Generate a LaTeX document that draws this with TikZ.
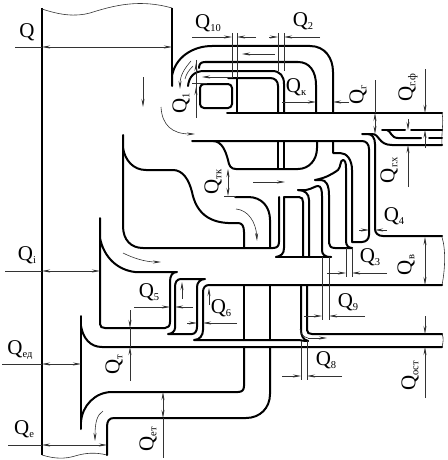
\documentclass[tikz,border=0pt]{standalone}
\usepackage{fontspec}
\setmainfont{Liberation Serif}
\usetikzlibrary{arrows.meta}
\newcommand{\Ql}[1]{{\fontsize{21}{21}\selectfont Q}{\fontsize{10.5}{10.5}\selectfont\raisebox{-3pt}{#1}}}
\tikzset{
  heavy/.style={line width=2pt,line cap=round,line join=round},
  wall/.style={line width=2.1pt,line cap=butt},
  thinl/.style={line width=.6pt,black!80},
  dimarrow/.style={thinl,-{Stealth[length=8pt,width=3pt]}},
  dimboth/.style={thinl,{Stealth[length=8pt,width=3pt]}-{Stealth[length=8pt,width=3pt]}},
  lab/.style={inner sep=0pt,anchor=center},
  vlab/.style={inner sep=0pt,anchor=center,rotate=90}
}
\begin{document}
\begin{tikzpicture}[x=1pt,y=-1pt]
\useasboundingbox (0,0) rectangle (447,460);
% casing and wavy cuts
\draw[wall] (42,8) -- (42,455);
\draw[thinl] (42,9) .. controls (60,15) and (75,17) .. (90,13) .. controls (115,5) and (140,-1) .. (172,8);
\draw[thinl] (42,455) .. controls (55,459) and (65,459) .. (75,456) .. controls (85,453) and (95,452) .. (107,455);
\draw[thinl] (442,113) .. controls (444,122) and (441,135) .. (442,145);
\draw[thinl] (442,237) .. controls (446,250) and (445,270) .. (442,285);
\draw[thinl] (442,334) .. controls (444,338) and (443,343) .. (442,347);
\draw[wall] (172,8) -- (172,86);
% top outer duct
\draw[heavy] (172,86) -- (172,76) .. controls (175,58) and (192,46) .. (212,46) -- (310,46) .. controls (325,46) and (333,58) .. (333,72) -- (333,113);
\draw[heavy] (199,68) .. controls (199,64) and (201,62) .. (205,62) -- (298,62) .. controls (310,62) and (316,72) .. (316,85) -- (316,113);
\draw[heavy] (188,86) .. controls (189,77) and (194,71) .. (204,71) -- (272,71) .. controls (280,71) and (284,76) .. (284,84) -- (284,113);
\draw[heavy] (228,78) -- (270,78) .. controls (275,78) and (278,81) .. (278,86) -- (278,113);
\draw[heavy] (237,78) -- (237,113);
\draw[heavy,rounded corners=4pt] (200,84) rectangle (232,108);
% horizontal upper lines
\draw[heavy] (227,113) -- (442,113);
\draw[heavy] (192,141) -- (213,141) .. controls (222,141) and (226,152) .. (228,160) .. controls (229,166) and (231,169) .. (236,169) -- (298,169) .. controls (309,169) and (317,160) .. (317,148) -- (317,141);
\draw[heavy] (278,141) -- (278,168);
\draw[heavy] (284,141) -- (284,168);
% right branch
\draw[heavy] (213,141) -- (362,141) .. controls (366,141) and (369,144) .. (369,149) -- (369,235) .. controls (369,239) and (366,242) .. (362,242) -- (352,242);
\draw[heavy] (333,141) -- (333,153) -- (340,153) .. controls (347,153) and (352,160) .. (352,170) -- (352,242);
\draw[heavy] (362,134) -- (368,134) .. controls (372,134) and (375,138) .. (375,144) -- (375,229) .. controls (375,233) and (378,236) .. (383,236) -- (442,236);
\draw[heavy] (368,134) -- (372,134) .. controls (380,134) and (378,145) .. (392,145) -- (442,145);
\draw[heavy] (382,130) -- (405,130);
\draw[heavy] (411,130) -- (442,130);
\draw[heavy] (387,130) .. controls (391,131) and (391,138) .. (398,138) -- (421,138);
\draw[heavy] (429,138) -- (442,138);
% turbine blades middle
\draw[heavy] (315,180) .. controls (325,178) and (331,175) .. (338,170) .. controls (341,167) and (340,160) .. (343,160) .. controls (345,160) and (346,163) .. (346,168) -- (346,241) .. controls (346,245) and (348,248) .. (352,248);
\draw[heavy] (315,180) -- (321,180) .. controls (326,180) and (329,185) .. (329,195) -- (329,243) .. controls (329,246) and (331,248) .. (335,248) -- (352,248);
\draw[heavy] (298,190) -- (306,190) .. controls (312,189) and (315,186) .. (318,186) .. controls (321,186) and (322,190) .. (322,196) -- (322,250) .. controls (322,254) and (324,257) .. (331,257);
\draw[heavy] (276,257) -- (331,257);
\draw[heavy] (276,257) .. controls (281,256) and (284,254) .. (284,248) -- (284,197);
\draw[heavy] (279,197) -- (279,242) .. controls (279,246) and (277,248) .. (273,248) -- (143,248);
\draw[heavy] (284,197) -- (299,197) .. controls (302,197) and (303,199) .. (303,202) -- (303,257);
\draw[heavy] (298,190) .. controls (305,190) and (309,194) .. (309,200) -- (309,257);
% central duct left
\draw[heavy] (235,197) -- (248,197) .. controls (262,197) and (270,207) .. (270,220) -- (270,248);
\draw[heavy] (123,135) -- (123,226) .. controls (123,240) and (131,248) .. (143,248);
\draw[heavy] (123,148) .. controls (125,160) and (133,170) .. (146,170) -- (173,170) .. controls (183,170) and (189,180) .. (192,192) .. controls (196,212) and (208,222) .. (228,223) -- (238,223) .. controls (242,223) and (244,226) .. (244,232) -- (244,248);
% second nozzle
\draw[heavy] (100,218) -- (100,324) .. controls (100,327) and (102,328) .. (105,328) -- (165,328) .. controls (168,328) and (170,326) .. (170,322) -- (170,282) .. controls (170,276) and (172,272) .. (177,272) -- (135,272) .. controls (118,270) and (104,258) .. (100,238);
\draw[heavy] (205,279) -- (181,279) .. controls (177,279) and (175,282) .. (175,287) -- (175,328) .. controls (175,331) and (172,334) .. (168,334) -- (192,334) .. controls (195,334) and (197,331) .. (197,327) -- (197,287) .. controls (197,283) and (200,279) .. (205,279);
\draw[heavy] (442,285) -- (209,285) .. controls (205,285) and (203,288) .. (203,292) -- (203,330) .. controls (203,335) and (200,340) .. (194,340) -- (299,340) .. controls (304,341) and (306,341) .. (308,341);
\draw[heavy] (301,285) -- (301,330) .. controls (301,335) and (303,340) .. (308,341);
\draw[heavy] (307,285) -- (307,330) .. controls (307,333) and (309,334) .. (312,334) -- (442,334);
\draw[heavy] (244,285) -- (244,340);
\draw[heavy] (270,285) -- (270,340);
% bottom nozzle
\draw[heavy] (81,316) -- (81,429);
\draw[heavy] (81,326) .. controls (83,338) and (90,347) .. (102,347) -- (442,347);
\draw[heavy] (244,347) -- (244,386) .. controls (244,390) and (242,392) .. (238,392) -- (112,392) .. controls (95,392) and (82,406) .. (81,422);
\draw[heavy] (270,347) -- (270,394) .. controls (270,408) and (260,418) .. (246,418) -- (114,418) .. controls (109,418) and (107,421) .. (107,427) -- (107,455);
% flow arrows
\draw[dimarrow] (143,77) -- (143,107);
\draw[dimarrow] (161,107) .. controls (162,125) and (172,134) .. (195,134);
\draw[dimarrow] (191,61) .. controls (185,68) and (180,75) .. (180,89);
\draw[thinl] (193,66) .. controls (188,71) and (186,75) .. (185,79);
\draw[dimarrow] (232,77) -- (202,77);
\draw[dimarrow] (275,54) -- (242,54);
\draw[dimarrow] (253,182) -- (285,182);
\draw[dimarrow] (236,209) .. controls (248,210) and (256,222) .. (257,241);
\draw[dimarrow] (123,253) .. controls (133,258) and (145,262) .. (161,262);
\draw[dimarrow] (182,299) -- (182,282);
\draw[dimarrow] (209,305) -- (209,288);
\draw[dimarrow] (308,338) -- (327,338);
\draw[thinl] (300,329) .. controls (301,334) and (303,337) .. (308,338);
\draw[dimarrow] (103,411) .. controls (97,415) and (95,422) .. (95,441);
% dimensions
\draw[thinl] (15,47) -- (42,47);
\draw[dimboth] (42,47) -- (172,47);
\node[lab] (q) at (27,32) {\Ql{}};
\draw[thinl] (5,271) -- (42,271);
\draw[dimboth] (42,271) -- (100,271);
\node[lab] (qi) at (27,255) {\Ql{i}};
\draw[thinl] (2,364) -- (42,364);
\draw[dimboth] (42,364) -- (81,364);
\node[lab] (qed) at (20,350) {\Ql{ед}};
\draw[thinl] (8,445) -- (42,445);
\draw[dimboth] (42,445) -- (107,445);
\node[lab] (qe) at (24,429) {\Ql{е}};
% Q_t
\draw[dimarrow] (130,310) -- (130,328);
\draw[dimarrow] (130,381) -- (130,347);
\draw[thinl] (130,328) -- (130,347);
\node[vlab] (qt) at (114,365) {\Ql{т}};
% Q_et
\draw[thinl] (163,418) -- (163,458);
\draw[dimboth] (163,392) -- (163,418);
\node[vlab] (qet) at (148,439) {\Ql{ет}};
% Q5, Q6
\draw[dimarrow] (134,307) -- (170,307);
\draw[dimarrow] (193,307) -- (175,307);
\node[lab] (q5) at (149,292) {\Ql{5}};
\draw[dimarrow] (187,323) -- (197,323);
\draw[dimarrow] (237,323) -- (203,323);
\node[lab] (q6) at (221,308) {\Ql{6}};
% Q_tk
\draw[dimboth] (228,169) -- (228,196);
\draw[thinl] (224,196) -- (236,196);
\node[vlab] (qtk) at (213,182) {\Ql{тк}};
% top dims
\draw[thinl] (232,33) -- (232,78);
\draw[thinl] (237,33) -- (237,78);
\draw[dimarrow] (192,37) -- (232,37);
\draw[dimarrow] (256,37) -- (237,37);
\node[lab] (q10) at (208,23) {\Ql{10}};
\draw[thinl] (278,33) -- (278,71);
\draw[thinl] (284,33) -- (284,71);
\draw[dimarrow] (269,37) -- (278,37);
\draw[dimarrow] (320,37) -- (284,37);
\node[lab] (q2) at (303,21) {\Ql{2}};
% Q1
\draw[thinl] (196,60) -- (196,118);
\draw[dimarrow] (196,76) -- (196,63);
\draw[dimarrow] (196,104) -- (196,87);
\draw[thinl] (192,83) -- (207,83);
\node[vlab] (q1) at (181,103) {\Ql{1}};
% Q_k
\draw[dimarrow] (282,102) -- (316,102);
\draw[dimarrow] (349,102) -- (333,102);
\node[lab] (qk) at (296,87) {\Ql{к}};
% Q_g
\draw[thinl] (375,80) -- (375,113);
\draw[dimboth] (375,113) -- (375,134);
\node[vlab] (qg) at (358,95) {\Ql{г}};
% Q_gf
\draw[dimarrow] (425,69) -- (425,113);
\draw[dimarrow] (425,148) -- (425,130);
\node[vlab] (qgf) at (408,88) {\Ql{г.ф}};
% Q_gx
\draw[dimarrow] (408,119) -- (408,130);
\draw[dimarrow] (408,187) -- (408,145);
\node[vlab] (qgx) at (389,170) {\Ql{г.х}};
% Q4
\draw[dimarrow] (359,230) -- (369,230);
\draw[dimarrow] (387,230) -- (375,230);
\node[lab] (q4) at (394,216) {\Ql{4}};
% Q3
\draw[thinl] (346,248) -- (346,277);
\draw[thinl] (352,248) -- (352,277);
\draw[dimarrow] (327,273) -- (346,273);
\draw[dimarrow] (387,273) -- (352,273);
\node[lab] (q3) at (370,257) {\Ql{3}};
% Qv
\draw[dimboth] (425,237) -- (425,285);
\node[vlab] (qv) at (406,265) {\Ql{в}};
% Q9
\draw[thinl] (322,257) -- (322,320);
\draw[thinl] (329,257) -- (329,320);
\draw[dimarrow] (304,316) -- (322,316);
\draw[dimarrow] (365,316) -- (329,316);
\node[lab] (q9) at (348,302) {\Ql{9}};
% Q8
\draw[thinl] (301,341) -- (301,380);
\draw[thinl] (307,341) -- (307,380);
\draw[dimarrow] (282,376) -- (301,376);
\draw[dimarrow] (342,376) -- (307,376);
\node[lab] (q8) at (326,360) {\Ql{8}};
% Q_ost
\draw[dimarrow] (425,316) -- (425,334);
\draw[dimarrow] (425,398) -- (425,347);
\node[vlab] (qost) at (410,376) {\Ql{ост}};
\end{tikzpicture}
\end{document}
